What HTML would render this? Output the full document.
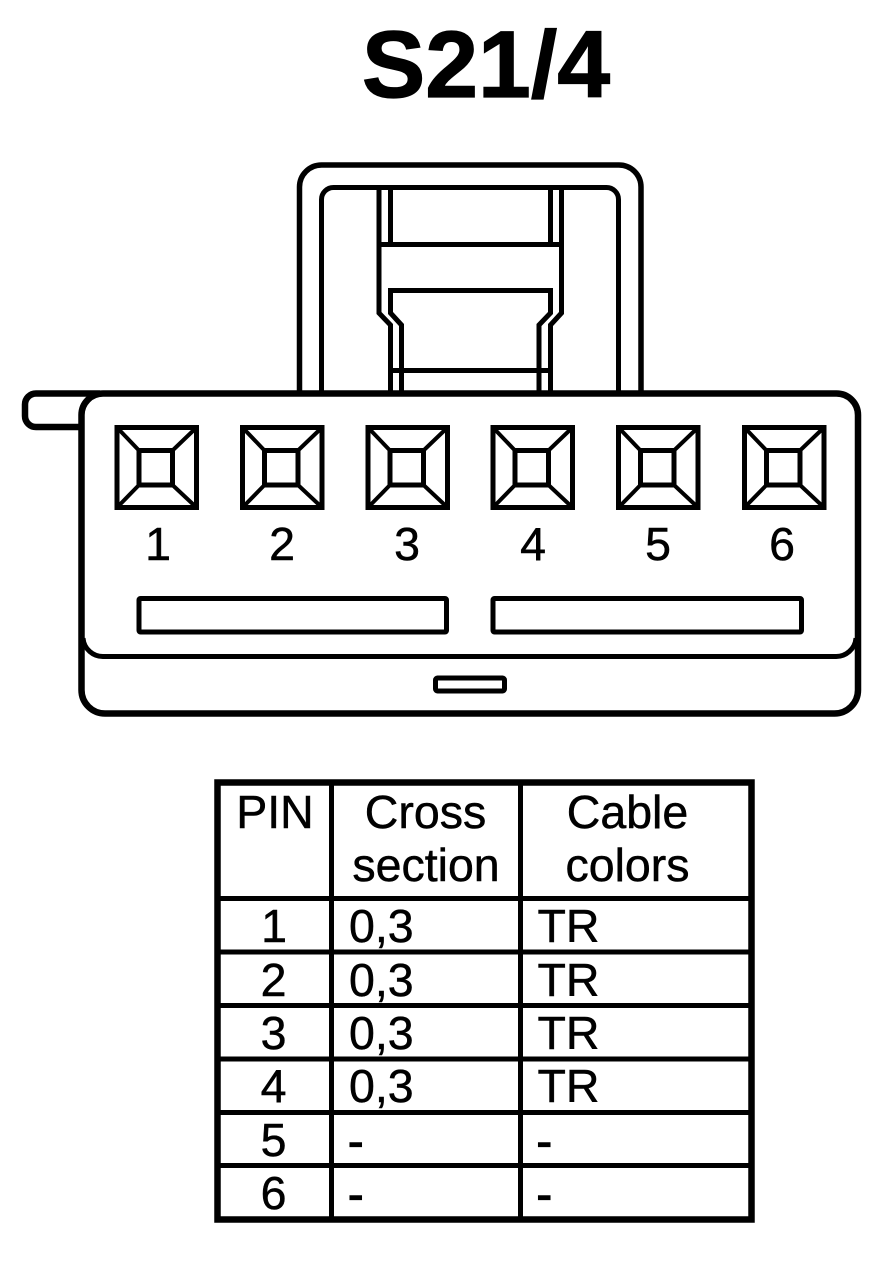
<!DOCTYPE html>
<html>
<head>
<meta charset="utf-8">
<style>
html,body{margin:0;padding:0;background:#fff;}
svg{display:block;}
text{font-family:"Liberation Sans",sans-serif;fill:#000;stroke:#000;stroke-width:.5px;}
</style>
</head>
<body>
<svg width="896" height="1266" viewBox="0 0 896 1266" xmlns="http://www.w3.org/2000/svg">
<rect width="896" height="1266" fill="#fff"/>
<text x="486" y="97" font-size="95" font-weight="bold" text-anchor="middle" style="stroke-width:1.2px">S21/4</text>

<g fill="none" stroke="#000" stroke-width="5">
  <!-- arches -->
  <path d="M299.5 393V187A22 22 0 0 1 321.5 165H619A22 22 0 0 1 641 187V393" stroke-width="5.5"/>
  <path d="M321.5 393V199.5A12 12 0 0 1 333.5 187.5H606.5A12 12 0 0 1 618.5 199.5V393"/>
  <!-- strap -->
  <path d="M379 188V313L390.5 325V393"/>
  <path d="M561.5 188V313L550.5 325V393"/>
  <path d="M390.5 188V244.5M550.5 188V244.5M379 244.5H561.5"/>
  <path d="M401.5 393V325L390.5 313V290.5H550.5V313L539 325V393"/>
  <path d="M390.5 370.5H550.5"/>
  <!-- tab -->
  <path d="M100 393.5H36A11 11 0 0 0 25 404.5V416A11 11 0 0 0 36 427H81.5" stroke-width="6.5"/>
  <!-- body -->
  <path d="M81.5 415A21.5 21.5 0 0 1 103 393.5H836.5A21.5 21.5 0 0 1 858 415V690A23.5 23.5 0 0 1 834.5 713.5H105A23.5 23.5 0 0 1 81.5 690Z" stroke-width="6.5"/>
  <path d="M83 638A20 20 0 0 0 104 656.5H835A20 20 0 0 0 856 638"/>
  <!-- slots -->
  <rect x="139" y="598.5" width="307.5" height="33.5" rx="1.5"/>
  <rect x="493" y="598.5" width="308.5" height="33.5" rx="1.5"/>
  <rect x="435.5" y="678" width="69" height="13" rx="2"/>
</g>

<g fill="none" stroke="#000" stroke-width="5">
  <g><rect x="117" y="427.5" width="79.5" height="80"/><rect x="139" y="450.5" width="33.5" height="34.5"/><path stroke-width="4" d="M117 427.5L139 450.5M196.5 427.5L172.5 450.5M117 507.5L139 485M196.5 507.5L172.5 485"/></g>
  <g transform="translate(125.5 0)"><rect x="117" y="427.5" width="79.5" height="80"/><rect x="139" y="450.5" width="33.5" height="34.5"/><path stroke-width="4" d="M117 427.5L139 450.5M196.5 427.5L172.5 450.5M117 507.5L139 485M196.5 507.5L172.5 485"/></g>
  <g transform="translate(251 0)"><rect x="117" y="427.5" width="79.5" height="80"/><rect x="139" y="450.5" width="33.5" height="34.5"/><path stroke-width="4" d="M117 427.5L139 450.5M196.5 427.5L172.5 450.5M117 507.5L139 485M196.5 507.5L172.5 485"/></g>
  <g transform="translate(376 0)"><rect x="117" y="427.5" width="79.5" height="80"/><rect x="139" y="450.5" width="33.5" height="34.5"/><path stroke-width="4" d="M117 427.5L139 450.5M196.5 427.5L172.5 450.5M117 507.5L139 485M196.5 507.5L172.5 485"/></g>
  <g transform="translate(501.5 0)"><rect x="117" y="427.5" width="79.5" height="80"/><rect x="139" y="450.5" width="33.5" height="34.5"/><path stroke-width="4" d="M117 427.5L139 450.5M196.5 427.5L172.5 450.5M117 507.5L139 485M196.5 507.5L172.5 485"/></g>
  <g transform="translate(627.5 0)"><rect x="117" y="427.5" width="79.5" height="80"/><rect x="139" y="450.5" width="33.5" height="34.5"/><path stroke-width="4" d="M117 427.5L139 450.5M196.5 427.5L172.5 450.5M117 507.5L139 485M196.5 507.5L172.5 485"/></g>
</g>

<g font-size="46.5" text-anchor="middle">
  <text x="158" y="560">1</text>
  <text x="282" y="560">2</text>
  <text x="407" y="560">3</text>
  <text x="533" y="560">4</text>
  <text x="658" y="560">5</text>
  <text x="782" y="560">6</text>
</g>

<!-- table -->
<g fill="none" stroke="#000">
  <rect x="217.5" y="782.5" width="534" height="437" stroke-width="6.5"/>
  <path d="M331.5 782V1220M520.5 782V1220" stroke-width="5"/>
  <path d="M217 898.5H752M217 952H752M217 1005.5H752M217 1059H752M217 1112.5H752M217 1165.5H752" stroke-width="5"/>
</g>
<g font-size="46.5" text-anchor="middle">
  <text x="275" y="828">PIN</text>
  <text x="425.5" y="828">Cross</text>
  <text x="426" y="881">section</text>
  <text x="627.5" y="828">Cable</text>
  <text x="627.5" y="881">colors</text>
  <text x="274" y="942">1</text>
  <text x="273.5" y="996">2</text>
  <text x="273.5" y="1049">3</text>
  <text x="273.5" y="1102">4</text>
  <text x="273.5" y="1156">5</text>
  <text x="273.5" y="1209">6</text>
</g>
<g font-size="46.5">
  <text x="349" y="942">0,3</text>
  <text x="349" y="996">0,3</text>
  <text x="349" y="1049">0,3</text>
  <text x="349" y="1102">0,3</text>
  <text x="537.5" y="942">TR</text>
  <text x="537.5" y="996">TR</text>
  <text x="537.5" y="1049">TR</text>
  <text x="537.5" y="1102">TR</text>
  <text x="348" y="1157" style="stroke-width:1.2px">-</text>
  <text x="348" y="1210" style="stroke-width:1.2px">-</text>
  <text x="536.5" y="1157" style="stroke-width:1.2px">-</text>
  <text x="536.5" y="1210" style="stroke-width:1.2px">-</text>
</g>
</svg>
</body>
</html>
